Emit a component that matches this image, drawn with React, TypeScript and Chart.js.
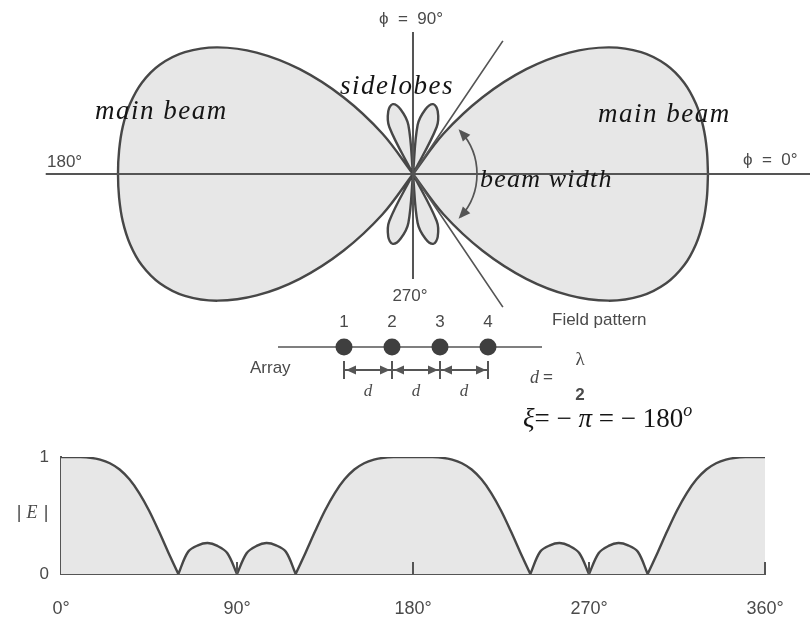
import { useEffect, useRef } from 'react';
import { Chart, registerables } from 'chart.js';

Chart.register(...registerables);

// Azimuth angle φ in degrees, sampled every 5°
const angleDeg = [
  0, 5, 10, 15, 20, 25, 30, 35, 40, 45, 50, 55, 60, 65, 70, 75, 80, 85, 90,
  95, 100, 105, 110, 115, 120, 125, 130, 135, 140, 145, 150, 155, 160, 165, 170, 175, 180,
  185, 190, 195, 200, 205, 210, 215, 220, 225, 230, 235, 240, 245, 250, 255, 260, 265, 270,
  275, 280, 285, 290, 295, 300, 305, 310, 315, 320, 325, 330, 335, 340, 345, 350, 355, 360,
];

// Normalised field magnitude |E| of the 4-element array at each angle
const fieldMag = [
  1.0, 1.0, 0.999, 0.993, 0.978, 0.947, 0.893, 0.809, 0.692, 0.543, 0.367, 0.18, 0, 0.19, 0.245, 0.265, 0.24, 0.18, 0,
  0.18, 0.24, 0.265, 0.245, 0.19, 0, 0.18, 0.367, 0.543, 0.692, 0.809, 0.893, 0.947, 0.978, 0.993, 0.999, 1.0, 1.0,
  1.0, 0.999, 0.993, 0.978, 0.947, 0.893, 0.809, 0.692, 0.543, 0.367, 0.18, 0, 0.19, 0.245, 0.265, 0.24, 0.18, 0,
  0.18, 0.24, 0.265, 0.245, 0.19, 0, 0.18, 0.367, 0.543, 0.692, 0.809, 0.893, 0.947, 0.978, 0.993, 0.999, 1.0, 1.0,
];

const angleTicks = [0, 90, 180, 270, 360];
const magTicks = [0, 1];
const elementLabels = ['1', '2', '3', '4'];
const spacingLabels = ['d', 'd', 'd'];

const INK = '#474747';
const AXIS = '#555555';
const FILL = '#e7e7e7';
const TEXT = '#4a4a4a';
const MATH = '#151515';
const SANS = '"Liberation Sans", Arial, sans-serif';
const SERIF = '"Liberation Serif", "Times New Roman", serif';

type Pt = { x: number; y: number };

// Walk the pattern; a null is listed twice so neighbouring lobes meet in a cusp
function tracePoints(toXY: (a: number, r: number) => Pt): Pt[] {
  const pts: Pt[] = [];
  angleDeg.forEach((a, i) => {
    const p = toXY(a, fieldMag[i]);
    pts.push(p);
    if (fieldMag[i] === 0) pts.push({ ...p });
  });
  return pts;
}

const rad = (d: number) => (d * Math.PI) / 180;

function text(
  ctx: CanvasRenderingContext2D,
  s: string,
  x: number,
  y: number,
  font: string,
  color: string,
  align: CanvasTextAlign = 'left',
  spacing = '0px'
) {
  ctx.save();
  ctx.font = font;
  ctx.fillStyle = color;
  ctx.textAlign = align;
  ctx.textBaseline = 'middle';
  (ctx as any).letterSpacing = spacing;
  ctx.fillText(s, x, y);
  ctx.restore();
}

function mathRun(ctx: CanvasRenderingContext2D, parts: [string, string][], x: number, y: number) {
  let cx = x;
  ctx.save();
  ctx.fillStyle = MATH;
  ctx.textBaseline = 'alphabetic';
  ctx.textAlign = 'left';
  for (const [s, font] of parts) {
    const raise = s === 'o' ? 11 : 0;
    ctx.font = font;
    ctx.fillText(s, cx, y - raise);
    cx += ctx.measureText(s).width;
  }
  ctx.restore();
}

function arrowHead(ctx: CanvasRenderingContext2D, tx: number, ty: number, dx: number, dy: number, len: number, half: number) {
  const bx = tx - dx * len;
  const by = ty - dy * len;
  ctx.beginPath();
  ctx.moveTo(tx, ty);
  ctx.lineTo(bx - dy * half, by + dx * half);
  ctx.lineTo(bx + dy * half, by - dx * half);
  ctx.closePath();
  ctx.fill();
}

// Axes, beam-width markers and all annotations of the polar diagram
const polarDecor = {
  id: 'polarDecor',
  afterDatasetsDraw(chart: any) {
    const ctx: CanvasRenderingContext2D = chart.ctx;
    const sx = chart.scales.x;
    const sy = chart.scales.y;
    const px = (v: number) => sx.getPixelForValue(v);
    const py = (v: number) => sy.getPixelForValue(v);
    const ox = px(0);
    const oy = py(0);

    ctx.save();
    ctx.strokeStyle = AXIS;
    ctx.lineWidth = 2;
    ctx.lineCap = 'butt';
    // reference axes through the array centre
    ctx.beginPath();
    ctx.moveTo(px(-1.245), oy);
    ctx.lineTo(chart.chartArea.right, oy);
    ctx.moveTo(ox, py(0.52));
    ctx.lineTo(ox, py(-0.385));
    ctx.stroke();

    // beam edges
    ctx.lineWidth = 1.7;
    ctx.beginPath();
    for (const a of [58, -58]) {
      ctx.moveTo(ox, oy);
      ctx.lineTo(px(0.575 * Math.cos(rad(a))), py(0.575 * Math.sin(rad(a))));
    }
    ctx.stroke();

    // beam width arc with arrowheads
    const R = 64;
    const a0 = rad(-42);
    const a1 = rad(42);
    ctx.lineWidth = 1.7;
    ctx.beginPath();
    ctx.arc(ox, oy, R, a0, a1);
    ctx.stroke();
    ctx.fillStyle = AXIS;
    arrowHead(ctx, ox + R * Math.cos(a0) - 2, oy + R * Math.sin(a0) - 2, Math.sin(a0), -Math.cos(a0), 12, 5);
    arrowHead(ctx, ox + R * Math.cos(a1) - 2, oy + R * Math.sin(a1) + 2, -Math.sin(a1), Math.cos(a1), 12, 5);
    ctx.restore();

    // axis captions
    text(ctx, 'ϕ  =  90°', ox - 2, 19, `17px ${SANS}`, TEXT, 'center');
    text(ctx, '180°', 47, 162, `17px ${SANS}`, TEXT);
    text(ctx, 'ϕ  =  0°', 743, 160, `17px ${SANS}`, TEXT);
    text(ctx, '270°', ox - 3, 296, `17px ${SANS}`, TEXT, 'center');
    text(ctx, 'Field pattern', 552, 320, `17px ${SANS}`, TEXT);

    // lobe names
    text(ctx, 'main beam', 95, 112, `italic 27px ${SERIF}`, MATH, 'left', '1.5px');
    text(ctx, 'main beam', 598, 115, `italic 27px ${SERIF}`, MATH, 'left', '1.5px');
    text(ctx, 'sidelobes', 340, 87, `italic 27px ${SERIF}`, MATH, 'left', '1.5px');
    text(ctx, 'beam width', 480, 180, `italic 26px ${SERIF}`, MATH, 'left', '1.2px');

    // the four-element array
    const ex = [344, 392, 440, 488];
    const ay = 347;
    ctx.save();
    ctx.strokeStyle = AXIS;
    ctx.fillStyle = '#3f3f3f';
    ctx.lineWidth = 1.6;
    ctx.beginPath();
    ctx.moveTo(278, ay);
    ctx.lineTo(542, ay);
    ctx.stroke();
    ex.forEach((x) => {
      ctx.beginPath();
      ctx.arc(x, ay, 8.5, 0, Math.PI * 2);
      ctx.fill();
    });
    // spacing dimension marks
    const dy = 370;
    ctx.fillStyle = AXIS;
    ctx.lineWidth = 2;
    ctx.beginPath();
    ex.forEach((x) => {
      ctx.moveTo(x, dy - 9);
      ctx.lineTo(x, dy + 9);
    });
    ctx.moveTo(ex[0], dy);
    ctx.lineTo(ex[3], dy);
    ctx.stroke();
    for (let i = 0; i < 3; i++) {
      arrowHead(ctx, ex[i] + 2, dy, -1, 0, 10, 4.5);
      arrowHead(ctx, ex[i + 1] - 2, dy, 1, 0, 10, 4.5);
    }
    ctx.restore();
    elementLabels.forEach((s, i) => text(ctx, s, ex[i], 322, `17px ${SANS}`, TEXT, 'center'));
    spacingLabels.forEach((s, i) =>
      text(ctx, s, (ex[i] + ex[i + 1]) / 2, 392, `italic 17px ${SERIF}`, TEXT, 'center')
    );
    text(ctx, 'Array', 250, 368, `17px ${SANS}`, TEXT);

    // spacing and phase
    text(ctx, 'd', 530, 378, `italic 18px ${SERIF}`, TEXT);
    text(ctx, '=', 543, 377, `17px ${SANS}`, TEXT);
    text(ctx, 'λ', 580, 360, `19px ${SERIF}`, TEXT, 'center');
    text(ctx, '2', 580, 395, `bold 17px ${SANS}`, TEXT, 'center');
    const it = `italic 27px ${SERIF}`;
    const rm = `27px ${SERIF}`;
    mathRun(
      ctx,
      [
        ['ξ', it],
        ['= − ', rm],
        ['π', it],
        [' = − 180', rm],
        ['o', `italic 18px ${SERIF}`],
      ],
      523,
      427
    );
  },
};

// Ticks, and the |E| caption of the unwrapped plot
const lineDecor = {
  id: 'lineDecor',
  afterDatasetsDraw(chart: any) {
    const ctx: CanvasRenderingContext2D = chart.ctx;
    const sx = chart.scales.x;
    const y0 = chart.scales.y.getPixelForValue(0);
    ctx.save();
    ctx.strokeStyle = AXIS;
    ctx.lineWidth = 2;
    ctx.beginPath();
    angleTicks.slice(1).forEach((v) => {
      const x = sx.getPixelForValue(v);
      ctx.moveTo(x, y0);
      ctx.lineTo(x, y0 - 12);
    });
    ctx.stroke();
    ctx.restore();
    const cy = chart.scales.y.getPixelForValue(0.52);
    text(ctx, '|', 19, cy, `18px ${SANS}`, TEXT, 'center');
    text(ctx, 'E', 32, cy, `italic 18px ${SERIF}`, TEXT, 'center');
    text(ctx, '|', 46, cy, `18px ${SANS}`, TEXT, 'center');
  },
};

export default function App() {
  const topRef = useRef<HTMLCanvasElement>(null);
  const botRef = useRef<HTMLCanvasElement>(null);

  useEffect(() => {
    const polarPts = tracePoints((a, r) => ({ x: r * Math.cos(rad(a)), y: r * Math.sin(rad(a)) }));
    const linePts = tracePoints((a, r) => ({ x: a, y: r }));

    const polar = new Chart(topRef.current!, {
      type: 'scatter',
      data: {
        datasets: [
          {
            data: polarPts,
            showLine: true,
            tension: 0.35,
            borderColor: INK,
            borderWidth: 2.4,
            backgroundColor: FILL,
            fill: 'shape',
            pointRadius: 0,
          } as any,
        ],
      },
      options: {
        animation: false,
        responsive: false,
        events: [],
        layout: { padding: 0 },
        plugins: { legend: { display: false }, tooltip: { enabled: false } },
        scales: {
          x: { type: 'linear', display: false, min: -1.4, max: 1.3458 },
          y: { type: 'linear', display: false, min: -0.9744, max: 0.6374 },
        },
      },
      plugins: [polarDecor],
    });

    const tickFont = { family: SANS, size: 18 };
    const line = new Chart(botRef.current!, {
      type: 'line',
      data: {
        datasets: [
          {
            data: linePts,
            tension: 0.35,
            borderColor: INK,
            borderWidth: 2.4,
            backgroundColor: FILL,
            fill: 'origin',
            pointRadius: 0,
          } as any,
        ],
      },
      options: {
        animation: false,
        responsive: false,
        events: [],
        layout: { padding: { top: 27, right: 45, left: 0, bottom: 0 } },
        plugins: { legend: { display: false }, tooltip: { enabled: false } },
        scales: {
          x: {
            type: 'linear',
            min: 0,
            max: 360,
            afterBuildTicks: (s: any) => {
              s.ticks = angleTicks.map((v) => ({ value: v }));
            },
            afterFit: (s: any) => {
              s.height = 47;
            },
            ticks: {
              callback: (v: any) => `${v}°`,
              font: tickFont,
              color: TEXT,
              padding: 24,
              maxRotation: 0,
              autoSkip: false,
            },
            grid: { drawOnChartArea: false, drawTicks: false },
            border: { display: true, color: AXIS, width: 2 },
          },
          y: {
            type: 'linear',
            min: 0,
            max: 1,
            afterBuildTicks: (s: any) => {
              s.ticks = magTicks.map((v) => ({ value: v }));
            },
            afterFit: (s: any) => {
              s.width = 61;
            },
            ticks: { font: { family: SANS, size: 17 }, color: TEXT, padding: 12 },
            grid: { drawOnChartArea: false, drawTicks: false },
            border: { display: true, color: AXIS, width: 2 },
          },
        },
      },
      plugins: [lineDecor],
    });

    return () => {
      polar.destroy();
      line.destroy();
    };
  }, []);

  return (
    <div style={{ position: 'absolute', left: 0, top: 0, width: 810, height: 621, background: '#fff', overflow: 'hidden' }}>
      <canvas ref={topRef} width={810} height={440} style={{ position: 'absolute', left: 0, top: 0 }} />
      <canvas ref={botRef} width={810} height={191} style={{ position: 'absolute', left: 0, top: 430 }} />
    </div>
  );
}
